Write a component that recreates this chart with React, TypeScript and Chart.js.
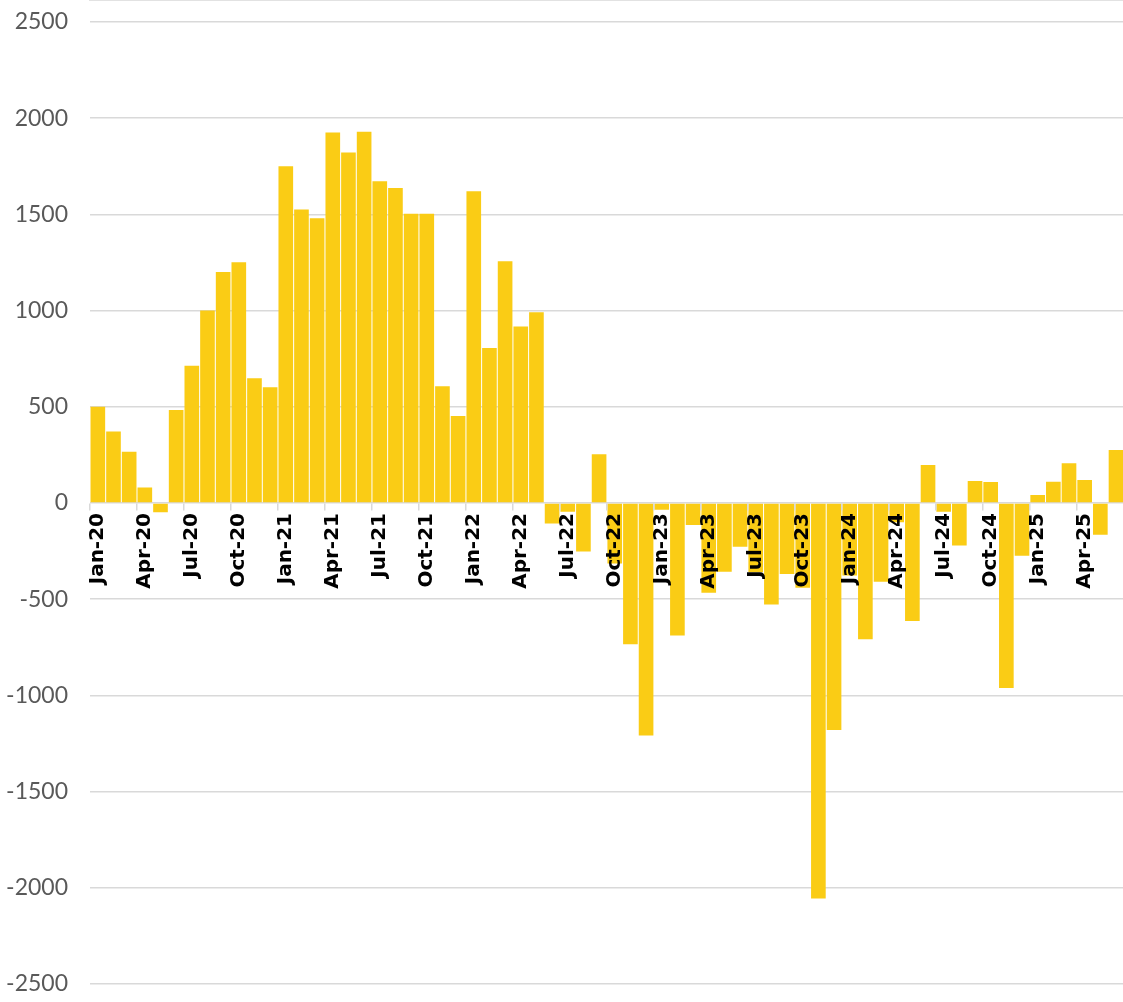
import React, { useEffect, useRef } from "react";
import { Chart, registerables } from "chart.js";

Chart.register(...registerables);

const months: string[] = [
  "Jan-20", "Feb-20", "Mar-20", "Apr-20", "May-20", "Jun-20", "Jul-20", "Aug-20", "Sep-20", "Oct-20", "Nov-20", "Dec-20",
  "Jan-21", "Feb-21", "Mar-21", "Apr-21", "May-21", "Jun-21", "Jul-21", "Aug-21", "Sep-21", "Oct-21", "Nov-21", "Dec-21",
  "Jan-22", "Feb-22", "Mar-22", "Apr-22", "May-22", "Jun-22", "Jul-22", "Aug-22", "Sep-22", "Oct-22", "Nov-22", "Dec-22",
  "Jan-23", "Feb-23", "Mar-23", "Apr-23", "May-23", "Jun-23", "Jul-23", "Aug-23", "Sep-23", "Oct-23", "Nov-23", "Dec-23",
  "Jan-24", "Feb-24", "Mar-24", "Apr-24", "May-24", "Jun-24", "Jul-24", "Aug-24", "Sep-24", "Oct-24", "Nov-24", "Dec-24",
  "Jan-25", "Feb-25", "Mar-25", "Apr-25", "May-25", "Jun-25",
];

const values: number[] = [
  500, 372, 266, 81, -48, 483, 713, 1000, 1201, 1251, 649, 601,
  1750, 1526, 1480, 1926, 1822, 1930, 1672, 1637, 1504, 1504, 607, 452,
  1620, 805, 1257, 917, 992, -106, -45, -252, 253, -315, -734, -1208,
  -35, -689, -114, -466, -357, -228, -360, -528, -369, -440, -2055, -1180,
  -377, -708, -409, -100, -613, 197, -45, -221, 114, 109, -962, -274,
  41, 111, 206, 119, -165, 275,
];

const yMin = -2500;
const yMax = 2500;
const yStep = 500;
const labelEvery = 3;

const BAR_COLOR = "rgb(250,204,21)";
const GRID_COLOR = "#d9d9d9";

export default function App() {
  const canvasRef = useRef<HTMLCanvasElement | null>(null);

  useEffect(() => {
    const canvas = canvasRef.current;
    if (!canvas) return;
    const chart = new Chart(canvas, {
      type: "bar",
      data: {
        labels: months,
        datasets: [
          {
            data: values,
            backgroundColor: BAR_COLOR,
            borderWidth: 0,
            barPercentage: 1,
            categoryPercentage: 0.935,
          },
        ],
      },
      options: {
        animation: false,
        responsive: false,
        maintainAspectRatio: false,
        layout: { padding: { top: 22, bottom: 18, left: 0, right: 0 } },
        plugins: {
          legend: { display: false },
          tooltip: { enabled: false },
        },
        scales: {
          x: {
            type: "category",
            position: { y: 0 } as any,
            offset: true,
            grid: {
              display: true,
              drawOnChartArea: false,
              drawTicks: true,
              tickLength: 7,
              offset: true,
              lineWidth: 1.5,
              z: 1,
              color: (ctx: any) => (ctx.index % labelEvery === 0 ? GRID_COLOR : "rgba(0,0,0,0)"),
            },
            border: { display: true, color: GRID_COLOR, width: 1.5, z: 0 },
            ticks: {
              autoSkip: false,
              minRotation: 90,
              maxRotation: 90,
              padding: 3,
              z: 1,
              color: "#000000",
              font: { family: "DejaVu Sans", size: 20, weight: "bold" },
              callback: (_v: any, i: number) => (i % labelEvery === 0 ? months[i] : ""),
            },
          },
          y: {
            min: yMin,
            max: yMax,
            afterFit: (scale: any) => {
              scale.width = 90;
            },
            grid: {
              color: GRID_COLOR,
              lineWidth: 1.5,
              drawTicks: true,
              tickLength: 19,
              tickColor: "rgba(0,0,0,0)",
            },
            border: { display: false },
            ticks: {
              stepSize: yStep,
              padding: 3,
              color: "#595959",
              font: { family: "Lato", size: 23 },
              callback: (v: any) => String(v),
            },
          },
        },
      },
    });
    return () => chart.destroy();
  }, []);

  return (
    <div style={{ position: "fixed", left: 0, top: 0, width: 1123, height: 1002, background: "#fff", overflow: "hidden" }}>
      <canvas ref={canvasRef} width={1143} height={1002} style={{ width: 1143, height: 1002 }} />
    </div>
  );
}
